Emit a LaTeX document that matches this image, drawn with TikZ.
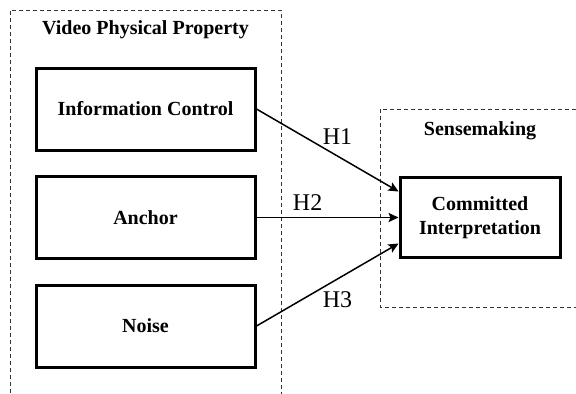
\documentclass[tikz,border=0pt]{standalone}
\usepackage{fontspec}
\setmainfont{Liberation Serif}
\usepackage{tikz}
\usetikzlibrary{arrows.meta, positioning}
\tikzstyle{factor} = [rectangle, minimum width=109.5pt, minimum height=41pt,
text centered, draw=black, line width=1.5pt, font=\bfseries]
\tikzstyle{outcome} = [rectangle, minimum width=80pt, minimum height=40pt,
text centered, draw=black, line width=1.5pt, font=\bfseries, align=center]
\tikzstyle{group} = [dash pattern=on 2pt off 1.5pt, line width=0.5pt, black!80]
\tikzstyle{title} = [font=\bfseries]
\tikzstyle{arrow} = [line width=0.75pt,-{Stealth[length=5pt,width=4.6pt,inset=1pt]}]
\tikzstyle{hyp} = [font=\fontsize{12}{14}\selectfont]

\begin{document}
\begin{tikzpicture}[x=0.5pt, y=-0.5pt, node distance=54.25pt]
  \useasboundingbox (0,0) rectangle (576,393);
  % Dashed groups
  \draw [group] (10,400) -- (10,10) -- (281,10) -- (281,400);
  \draw [group] (590,109) -- (380,109) -- (380,307) -- (590,307);
  \node (vpp) [title] at (145.5,30) {Video Physical Property};
  \node (sense) [title] at (480,131) {Sensemaking};
  % Nodes of the model
  \node (info) [factor] at (145.5,109) {Information Control};
  \node (anchor) [factor, below of=info] {Anchor};
  \node (noise) [factor, below of=anchor] {Noise};
  \node (commit) [outcome, right of=anchor, xshift=113pt] {Committed\\Interpretation};
  % Connections
  \draw [arrow] (info.east) -- ([yshift=13pt]commit.west)
        node[pos=0.57, above=2pt, hyp] {H1};
  \draw [arrow] (anchor) -- (commit) node[pos=0.36, above, hyp] {H2};
  \draw [arrow] (noise.east) -- ([yshift=-13pt]commit.west)
        node[pos=0.57, below=2.5pt, hyp] {H3};
\end{tikzpicture}
\end{document}
